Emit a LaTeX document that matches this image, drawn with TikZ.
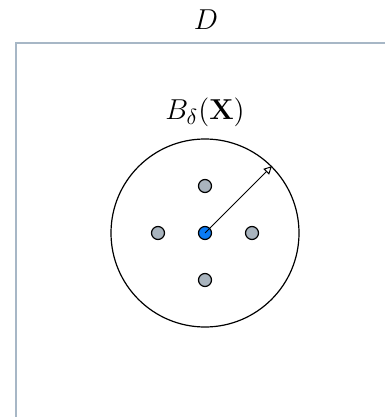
\documentclass[tikz,border=0pt]{standalone}
\usepackage{amsmath}
\usepackage{xcolor}
\usetikzlibrary{arrows.meta,positioning,calc}
\definecolor{FrameBlue}{HTML}{A7B7C6}
\definecolor{DotGray}{HTML}{A9B4BE}
\definecolor{DotBlue}{HTML}{0A7BF5}
\definecolor{InkDark}{HTML}{000000}

\begin{document}
\begin{tikzpicture}[x=0.5pt,y=-0.5pt,font=\fontsize{15.5pt}{18pt}\selectfont,>={Triangle[open,length=4pt,width=4pt]}]
\useasboundingbox (0,0) rectangle (385,417);
\draw[FrameBlue,line width=1pt] (16,417) -- (16,43) -- (385,43);
\node (dlabel) at (206,20){\(D\)};
\node[circle,draw=InkDark,line width=0.6pt,minimum size=94pt,inner sep=0pt] (ball) at (205,233){};
\node (blabel) at (205,112){\(B_\delta(\mathbf{X})\)};
\foreach \nm/\dx/\dy in {top/0/-47,bot/0/47,lft/-47/0,rgt/47/0}{
\node[circle,draw=InkDark,line width=0.6pt,fill=DotGray,minimum size=6.5pt,inner sep=0pt] (\nm) at ($(205,233)+(\dx,\dy)$){};}
\node[circle,draw=InkDark,line width=0.6pt,fill=DotBlue,minimum size=6.5pt,inner sep=0pt] (ctr) at (205,233){};
\draw[->,line width=0.5pt] (ctr.center) -- (ball.45);
\end{tikzpicture}
\end{document}
